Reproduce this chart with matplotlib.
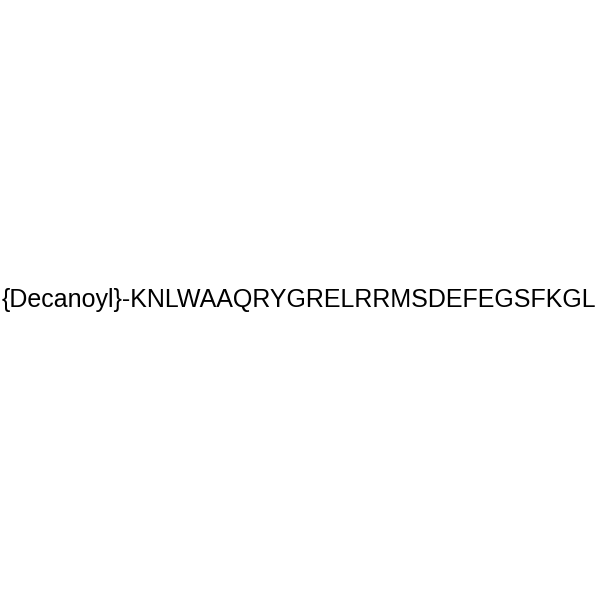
import matplotlib
matplotlib.use("Agg")
import matplotlib.pyplot as plt

label = "{Decanoyl}-KNLWAAQRYGRELRRMSDEFEGSFKGL"

fig = plt.figure(figsize=(6, 6), dpi=100)
fig.patch.set_facecolor("white")
fig.text(0.499, 0.5, label, ha="center", va="center",
         fontsize=18, family="Liberation Sans", color="black")
fig.savefig("out.png", dpi=100, facecolor="white")
